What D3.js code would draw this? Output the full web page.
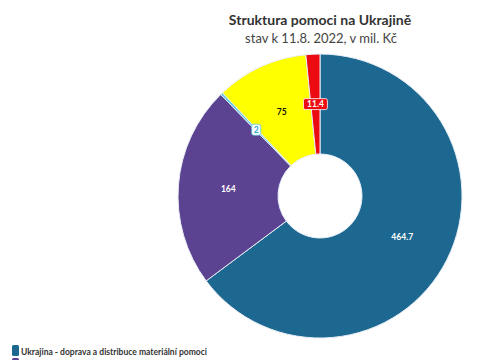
<!DOCTYPE html>
<html><head><meta charset="utf-8">
<script src="https://cdn.jsdelivr.net/npm/d3@7"></script>
<style>body{margin:0;background:#fff;}svg{display:block;}</style>
</head><body>
<svg id="c" width="485" height="360"></svg>
<script>
const categories = [
  "Ukrajina - doprava a distribuce materiální pomoci",
  "Ukrajina - humanitární pomoc",
  "Ukrajina - ostatní",
  "Ukrajina - zdravotnická pomoc",
  "Ukrajina - finanční pomoc"
];
const values = [464.7, 164, 2, 75, 11.4];
const labels = ["464.7", "164", "2", "75", "11.4"];
const colors = ["#1d6891", "#5c4392", "#5ec8e5", "#ffff00", "#ec0b10"];

const svg = d3.select("#c");
const font = "Lato, 'Open Sans', sans-serif";
const cx = 320, cy = 196, rOut = 142, rIn = 42;

svg.append("text").attr("x", 320).attr("y", 25).attr("text-anchor", "middle")
  .attr("font-family", font).attr("font-weight", "bold").attr("font-size", 14)
  .attr("fill", "#333").text("Struktura pomoci na Ukrajině");
svg.append("text").attr("x", 321).attr("y", 43).attr("text-anchor", "middle")
  .attr("font-family", font).attr("font-size", 13)
  .attr("fill", "#444").text("stav k 11.8. 2022, v mil. Kč");

const pie = d3.pie().sort(null).value(d => d)(values);
const arc = d3.arc().innerRadius(rIn).outerRadius(rOut);
const g = svg.append("g").attr("transform", `translate(${cx},${cy})`);
g.selectAll("path").data(pie).join("path")
  .attr("d", arc).attr("fill", (d, i) => colors[i])
  .attr("stroke", "#e8eef5").attr("stroke-width", 1);

pie.forEach((d, i) => {
  const [x, y] = arc.centroid(d);
  const t = g.append("text").attr("x", x).attr("y", y).attr("dy", "0.35em")
    .attr("text-anchor", "middle").attr("font-family", font)
    .attr("font-weight", "bold").attr("font-size", 8.5).text(labels[i]);
  if (i === 0 || i === 1) t.attr("fill", "#fff");
  else if (i === 3) t.attr("fill", "#111");
  else {
    const w = labels[i].length * 5 + 4;
    g.insert("rect", "text:last-child").attr("x", x - w / 2).attr("y", y - 5.5)
      .attr("width", w).attr("height", 11).attr("rx", 2)
      .attr("fill", i === 4 ? "#ec0b10" : "#ffffff")
      .attr("stroke", i === 4 ? "#fff" : colors[i]).attr("stroke-width", 0.8);
    t.raise().attr("fill", i === 4 ? "#fff" : "#2aa6c9");
  }
});

const leg = svg.append("g");
categories.slice(0, 2).forEach((c, i) => {
  const y = 345 + i * 13;
  leg.append("rect").attr("x", 12).attr("y", y).attr("width", 7).attr("height", 11)
    .attr("rx", 1.5).attr("fill", colors[i]);
  const t = leg.append("text").attr("x", 21).attr("y", y + 9.5).attr("font-family", font)
    .attr("font-weight", "bold").attr("font-size", 10).attr("fill", "#333").text(c);
  if (i === 0) t.attr("textLength", 186).attr("lengthAdjust", "spacingAndGlyphs");
});
</script>
</body></html>
